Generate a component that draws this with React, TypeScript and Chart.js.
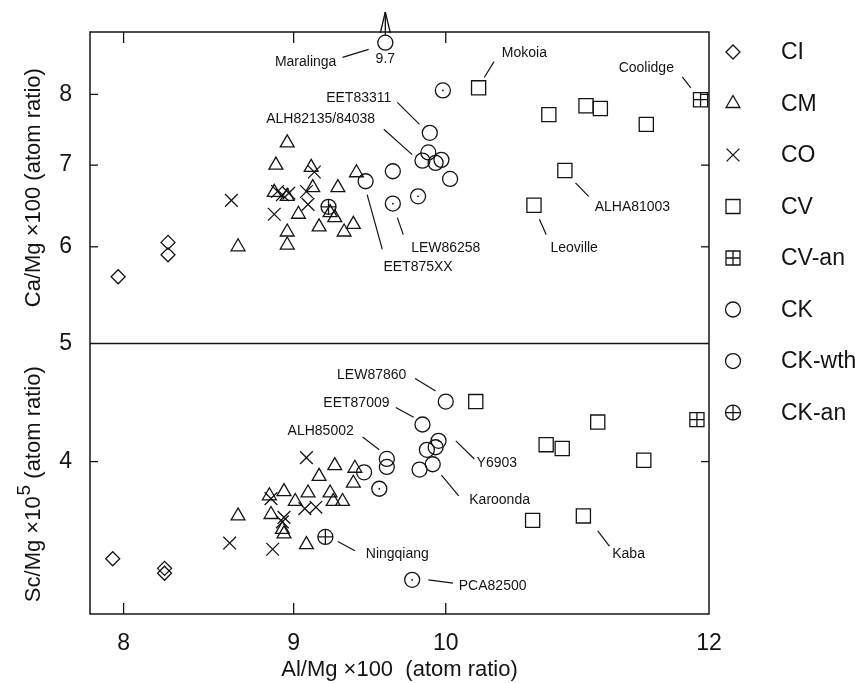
import React, { useEffect, useRef } from "react";
import { Chart, registerables } from "chart.js";

Chart.register(...registerables);

const FONT = '"Liberation Sans", Arial, Helvetica, sans-serif';
const INK = "#141414";

// ---------- axes ----------
const alMin = 7.816;
const alMax = 12;
const caMin = 5;
const caMax = 9;
const scMin = 3;
const scMax = 5;
const alTicks = [8, 9, 10, 12];
const caTicks = [6, 7, 8];
const scTicks = [4, 5];
const caDisplayCap = 8.82; // off-scale values (Maralinga 9.7) sit at the top edge with an arrow

// ---------- upper panel: [Al/Mg x100, Ca/Mg x100] ----------
const ciCa = [[7.97, 5.67], [8.25, 6.05], [8.25, 5.91]];
const cmCa = [
  [8.66, 6.0], [8.96, 7.3], [8.89, 7.0], [9.11, 6.97], [8.88, 6.65], [8.96, 6.6],
  [9.12, 6.71], [9.28, 6.71], [9.4, 6.9], [9.03, 6.38], [9.23, 6.4], [9.26, 6.34],
  [9.16, 6.23], [9.32, 6.17], [9.38, 6.26], [8.96, 6.17], [8.96, 6.02],
];
const coCa = [
  [8.62, 6.55], [8.88, 6.38], [8.9, 6.66], [8.93, 6.62], [8.97, 6.64],
  [9.13, 6.91], [9.08, 6.66], [9.09, 6.5],
];
const cvCa = [
  [10.23, 8.1], [10.74, 7.7], [11.02, 7.83], [11.13, 7.79], [11.49, 7.56],
  [10.86, 6.93], [10.63, 6.49],
];
const cvAnCa = [[11.93, 7.92]];
const ckCa = [
  [9.59, 9.7], [9.89, 7.44], [9.84, 7.06], [9.88, 7.17], [9.93, 7.03],
  [9.97, 7.07], [10.03, 6.82], [9.64, 6.92], [9.46, 6.79],
];
const ckWthCa = [[9.64, 6.51], [9.81, 6.6], [9.98, 8.06]];
const ckAnCa = [[9.22, 6.47]];

// ---------- lower panel: [Al/Mg x100, Sc/Mg x10^5] ----------
const ciSc = [[7.94, 3.33], [8.23, 3.27], [8.23, 3.24]];
const cmSc = [
  [8.66, 3.61], [8.85, 3.75], [8.94, 3.78], [8.86, 3.62], [8.93, 3.52], [8.94, 3.49],
  [9.01, 3.71], [9.09, 3.77], [9.16, 3.89], [9.26, 3.97], [9.39, 3.95], [9.38, 3.84],
  [9.23, 3.77], [9.25, 3.71], [9.31, 3.71], [9.08, 3.42],
];
const coSc = [
  [8.61, 3.43], [8.87, 3.39], [8.86, 3.73], [8.94, 3.6], [8.93, 3.57],
  [9.08, 4.03], [9.07, 3.66], [9.14, 3.67],
];
const cvSc = [
  [10.21, 4.48], [11.11, 4.31], [10.72, 4.13], [10.84, 4.1], [11.47, 4.01],
  [10.62, 3.58], [11.0, 3.61],
];
const cvAnSc = [[11.9, 4.33]];
const ckSc = [
  [9.45, 3.92], [9.6, 4.02], [9.6, 3.96], [9.82, 3.94], [9.84, 4.29],
  [9.87, 4.09], [9.93, 4.11], [9.91, 3.98], [10.0, 4.48],
];
const ckWthSc = [[9.55, 3.8], [9.77, 3.2], [9.95, 4.16]];
const ckAnSc = [[9.2, 3.47]];

// ---------- labels (data coordinates: text centre, leader line) ----------
const caNotes = [
  { text: "Maralinga", at: [9.075, 8.51], from: [9.31, 8.58], to: [9.48, 8.71] },
  { text: "9.7", at: [9.59, 8.55] },
  { text: "EET83311", at: [9.415, 7.95], from: [9.67, 7.88], to: [9.82, 7.56] },
  { text: "ALH82135/84038", at: [9.17, 7.63], from: [9.58, 7.49], to: [9.77, 7.14] },
  { text: "EET875XX", at: [9.81, 5.77], from: [9.47, 6.62], to: [9.57, 5.97] },
  { text: "LEW86258", at: [10.0, 5.99], from: [9.67, 6.34], to: [9.71, 6.14] },
  { text: "Mokoia", at: [10.56, 8.64], from: [10.27, 8.26], to: [10.34, 8.51] },
  { text: "Coolidge", at: [11.49, 8.4], from: [11.78, 8.27], to: [11.85, 8.1] },
  { text: "ALHA81003", at: [11.38, 6.47], from: [10.94, 6.77], to: [11.04, 6.6] },
  { text: "Leoville", at: [10.93, 5.99], from: [10.67, 6.32], to: [10.72, 6.14] },
];
const scNotes = [
  { text: "LEW87860", at: [9.5, 4.71], from: [9.79, 4.68], to: [9.93, 4.57] },
  { text: "EET87009", at: [9.4, 4.47], from: [9.66, 4.43], to: [9.78, 4.35] },
  { text: "ALH85002", at: [9.17, 4.24], from: [9.44, 4.19], to: [9.55, 4.09] },
  { text: "Ningqiang", at: [9.67, 3.36], from: [9.28, 3.44], to: [9.39, 3.38] },
  { text: "PCA82500", at: [10.33, 3.16], from: [9.88, 3.2], to: [10.05, 3.18] },
  { text: "Y6903", at: [10.36, 3.99], from: [10.07, 4.16], to: [10.2, 4.02] },
  { text: "Karoonda", at: [10.38, 3.72], from: [9.97, 3.9], to: [10.09, 3.75] },
  { text: "Kaba", at: [11.35, 3.36], from: [11.11, 3.51], to: [11.2, 3.41] },
];

const legendNames = ["CI", "CM", "CO", "CV", "CV-an", "CK", "CK-wth", "CK-an"];
const legendMarks = ["diamond", "triangle", "cross", "square", "squarePlus", "circle", "circle", "circlePlus"];

// ---------- legend marker drawing ----------
function drawMarker(g: CanvasRenderingContext2D, kind: string, x: number, y: number) {
  g.save();
  g.strokeStyle = INK;
  g.lineWidth = 1.3;
  g.beginPath();
  switch (kind) {
    case "diamond":
      g.moveTo(x - 7, y); g.lineTo(x, y - 7); g.lineTo(x + 7, y); g.lineTo(x, y + 7); g.closePath();
      break;
    case "triangle":
      g.moveTo(x, y - 8); g.lineTo(x + 6.93, y + 4); g.lineTo(x - 6.93, y + 4); g.closePath();
      break;
    case "cross":
      g.moveTo(x - 6.4, y - 6.4); g.lineTo(x + 6.4, y + 6.4);
      g.moveTo(x + 6.4, y - 6.4); g.lineTo(x - 6.4, y + 6.4);
      break;
    case "square":
      g.rect(x - 7, y - 7, 14, 14);
      break;
    case "squarePlus":
      g.rect(x - 7, y - 7, 14, 14);
      g.moveTo(x, y - 7); g.lineTo(x, y + 7); g.moveTo(x - 7, y); g.lineTo(x + 7, y);
      break;
    case "circle":
      g.arc(x, y, 7.5, 0, Math.PI * 2);
      break;
    case "circlePlus":
      g.arc(x, y, 7.5, 0, Math.PI * 2);
      g.moveTo(x, y - 7.5); g.lineTo(x, y + 7.5); g.moveTo(x - 7.5, y); g.lineTo(x + 7.5, y);
      break;
  }
  g.stroke();
  g.restore();
}

function toPts(arr: number[][], cap?: number) {
  return arr.map(([x, y]) => ({ x, y: cap ? Math.min(y, cap) : y }));
}

const decorPlugin = {
  id: "decor",
  afterDraw(chart: any) {
    const ctx: CanvasRenderingContext2D = chart.ctx;
    const a = chart.chartArea;
    const xs = chart.scales.x;
    const yt = chart.scales.yTop;
    const yb = chart.scales.yBot;
    const line = (x1: number, y1: number, x2: number, y2: number) => {
      ctx.beginPath(); ctx.moveTo(x1, y1); ctx.lineTo(x2, y2); ctx.stroke();
    };
    ctx.save();
    ctx.strokeStyle = INK;
    ctx.lineWidth = 1.5;
    ctx.strokeRect(a.left, a.top, a.right - a.left, a.bottom - a.top);
    line(a.left, yt.bottom, a.right, yt.bottom);

    // inward tick marks
    ctx.lineWidth = 1.3;
    alTicks.forEach((v) => {
      const px = xs.getPixelForValue(v);
      if (px > a.left + 2 && px < a.right - 2) {
        line(px, a.top, px, a.top + 11);
        line(px, a.bottom, px, a.bottom - 11);
      }
    });
    caTicks.forEach((v) => {
      const py = yt.getPixelForValue(v);
      line(a.left, py, a.left + 8, py);
      line(a.right, py, a.right - 8, py);
    });
    scTicks.forEach((v) => {
      const py = yb.getPixelForValue(v);
      if (py > yb.top + 2 && py < yb.bottom - 2) {
        line(a.left, py, a.left + 8, py);
        line(a.right, py, a.right - 8, py);
      }
    });

    // off-scale arrow(s)
    ckCa.forEach(([al, ca]) => {
      if (ca > caDisplayCap) {
        const px = xs.getPixelForValue(al);
        const py = yt.getPixelForValue(caDisplayCap);
        const tip = a.top - 20;
        line(px, py - 7.5, px, tip);
        line(px, tip, px - 5, a.top + 1);
        line(px, tip, px + 5, a.top + 1);
      }
    });

    // labels with leader lines
    ctx.font = `14px ${FONT}`;
    ctx.fillStyle = INK;
    ctx.textAlign = "center";
    ctx.textBaseline = "middle";
    ctx.lineWidth = 1.2;
    const drawNotes = (notes: any[], ys: any) => {
      notes.forEach((n) => {
        ctx.fillText(n.text, xs.getPixelForValue(n.at[0]), ys.getPixelForValue(n.at[1]));
        if (n.from) {
          line(
            xs.getPixelForValue(n.from[0]), ys.getPixelForValue(n.from[1]),
            xs.getPixelForValue(n.to[0]), ys.getPixelForValue(n.to[1])
          );
        }
      });
    };
    drawNotes(caNotes, yt);
    drawNotes(scNotes, yb);

    // legend
    const step = (a.bottom - a.top) / 11.3;
    legendNames.forEach((name, i) => {
      const y = a.top + 20 + i * step;
      drawMarker(ctx, legendMarks[i], a.right + 24, y);
      ctx.font = `23px ${FONT}`;
      ctx.textAlign = "left";
      ctx.fillStyle = INK;
      ctx.fillText(name, a.right + 72, y + 1);
    });

    // lower y-axis title with superscript
    ctx.save();
    const cy = (yb.top + yb.bottom) / 2 + 6;
    ctx.translate(34, cy);
    ctx.rotate(-Math.PI / 2);
    ctx.textAlign = "left";
    ctx.textBaseline = "middle";
    const p1 = "Sc/Mg \u00d710";
    const p3 = " (atom ratio)";
    ctx.font = `22px ${FONT}`;
    const w1 = ctx.measureText(p1).width;
    const w3 = ctx.measureText(p3).width;
    ctx.font = `19px ${FONT}`;
    const w2 = ctx.measureText("5").width;
    const x0 = -(w1 + w2 + w3) / 2;
    ctx.font = `22px ${FONT}`;
    ctx.fillText(p1, x0, 0);
    ctx.font = `19px ${FONT}`;
    ctx.fillText("5", x0 + w1 + 1, -9);
    ctx.font = `22px ${FONT}`;
    ctx.fillText(p3, x0 + w1 + w2 + 1, 0);
    ctx.restore();

    ctx.restore();
  },
};

export default function App() {
  const ref = useRef<HTMLCanvasElement>(null);
  useEffect(() => {
    document.body.style.margin = "0";
    // each group is one or more library point styles layered on the same values
    const layers: Record<string, any[]> = {
      CI: [{ pointStyle: "rectRot", pointRadius: 7 }],
      CM: [{ pointStyle: "triangle", pointRadius: 8 }],
      CO: [{ pointStyle: "crossRot", pointRadius: 9 }],
      CV: [{ pointStyle: "rect", pointRadius: 10 }],
      "CV-an": [
        { pointStyle: "rect", pointRadius: 10 },
        { pointStyle: "cross", pointRadius: 7.07 },
      ],
      CK: [{ pointStyle: "circle", pointRadius: 7.5 }],
      "CK-wth": [
        { pointStyle: "circle", pointRadius: 7.5 },
        { pointStyle: "circle", pointRadius: 0.9, pointBorderWidth: 0, pointBackgroundColor: INK },
      ],
      "CK-an": [
        { pointStyle: "circle", pointRadius: 7.5 },
        { pointStyle: "cross", pointRadius: 7.5 },
      ],
    };
    const caSets: [string, number[][]][] = [
      ["CI", ciCa], ["CM", cmCa], ["CO", coCa], ["CV", cvCa],
      ["CV-an", cvAnCa], ["CK", ckCa], ["CK-wth", ckWthCa], ["CK-an", ckAnCa],
    ];
    const scSets: [string, number[][]][] = [
      ["CI", ciSc], ["CM", cmSc], ["CO", coSc], ["CV", cvSc],
      ["CV-an", cvAnSc], ["CK", ckSc], ["CK-wth", ckWthSc], ["CK-an", ckAnSc],
    ];
    const mk = (name: string, pts: any[], axis: string) =>
      layers[name].map((st) => ({
        label: name,
        data: pts,
        yAxisID: axis,
        showLine: false,
        borderColor: INK,
        backgroundColor: "rgba(0,0,0,0)",
        pointBorderColor: INK,
        pointBackgroundColor: "rgba(0,0,0,0)",
        pointBorderWidth: 1.3,
        ...st,
      }));
    const datasets = [
      ...caSets.flatMap(([n, d]) => mk(n, toPts(d, caDisplayCap), "yTop")),
      ...scSets.flatMap(([n, d]) => mk(n, toPts(d), "yBot")),
    ];
    const tickFont = { family: FONT, size: 23 };
    const titleFont = { family: FONT, size: 22 };
    const chart = new Chart(ref.current!, {
      type: "scatter",
      data: { datasets },
      options: {
        animation: false,
        responsive: false,
        maintainAspectRatio: false,
        events: [],
        layout: { padding: { top: 32, right: 146, left: 0, bottom: 0 } },
        plugins: { legend: { display: false }, tooltip: { enabled: false } },
        scales: {
          x: {
            type: "logarithmic",
            position: "bottom",
            min: alMin,
            max: alMax,
            bounds: "data",
            grid: { display: false },
            border: { display: false },
            ticks: {
              autoSkip: false,
              maxRotation: 0,
              padding: 8,
              color: INK,
              font: tickFont,
              callback: (v: any) => String(v),
            },
            afterBuildTicks: (s: any) => {
              s.ticks = alTicks.map((v) => ({ value: v }));
            },
            afterFit: (s: any) => {
              s.height = 69;
            },
            title: {
              display: true,
              text: "Al/Mg \u00d7100  (atom ratio)",
              color: INK,
              font: titleFont,
              padding: { top: 0, bottom: 0 },
            },
          },
          yBot: {
            type: "logarithmic",
            position: "left",
            stack: "panels",
            stackWeight: Math.log(scMax / scMin),
            min: scMin,
            max: scMax,
            bounds: "data",
            grid: { display: false },
            border: { display: false },
            ticks: {
              autoSkip: false,
              padding: 10,
              color: INK,
              font: tickFont,
              callback: (v: any) => String(v),
            },
            afterBuildTicks: (s: any) => {
              s.ticks = scTicks.map((v) => ({ value: v }));
            },
            afterFit: (s: any) => {
              s.width = 90;
            },
          },
          yTop: {
            type: "logarithmic",
            position: "left",
            stack: "panels",
            stackWeight: Math.log(caMax / caMin),
            min: caMin,
            max: caMax,
            bounds: "data",
            grid: { display: false },
            border: { display: false },
            ticks: {
              autoSkip: false,
              padding: 10,
              color: INK,
              font: tickFont,
              callback: (v: any) => String(v),
            },
            afterBuildTicks: (s: any) => {
              s.ticks = caTicks.map((v) => ({ value: v }));
            },
            afterFit: (s: any) => {
              s.width = 90;
            },
            title: {
              display: true,
              text: "Ca/Mg \u00d7100 (atom ratio)",
              color: INK,
              font: titleFont,
              padding: { top: 21, bottom: 0 },
            },
          },
        },
      } as any,
      plugins: [decorPlugin],
    });
    return () => chart.destroy();
  }, []);
  return (
    <div style={{ width: 855, height: 683, background: "#fff" }}>
      <canvas ref={ref} width={855} height={683} style={{ display: "block" }} />
    </div>
  );
}
